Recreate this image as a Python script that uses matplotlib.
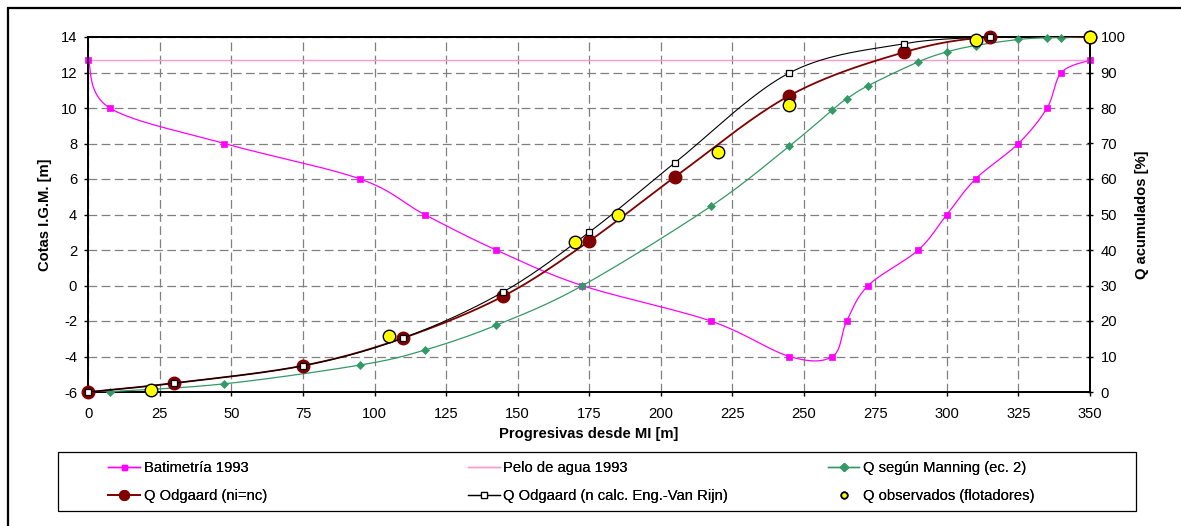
import numpy as np
import matplotlib
matplotlib.use('Agg')
import matplotlib.pyplot as plt
from matplotlib.lines import Line2D
from matplotlib.patches import Rectangle

plt.rcParams['font.family'] = ['Liberation Sans', 'DejaVu Sans']
plt.rcParams['axes.unicode_minus'] = False

# ---- data ----
x_bat = [0, 7.5, 47.5, 95, 117.5, 142.5, 172.5, 217.5, 245, 260, 265, 272.5, 290, 300, 310, 325, 335, 340, 350]
z_bat = [12.7, 10, 8, 6, 4, 2, 0, -2, -4, -4, -2, 0, 2, 4, 6, 8, 10, 12, 12.7]
x_pelo = [0, 350]
z_pelo = [12.7, 12.7]
q_manning = [0, 0.1, 2.3, 7.6, 11.8, 18.8, 29.9, 52.3, 69.3, 79.5, 82.6, 86.3, 93.0, 95.8, 97.6, 99.3, 99.8, 99.8, 100]
x_odg = [0, 30, 75, 110, 145, 175, 205, 245, 285, 315, 350]
q_odg = [0, 2.5, 7.4, 15.2, 27.0, 42.5, 60.6, 83.5, 95.7, 100, 100]
x_odg_vr = [0, 30, 75, 110, 145, 175, 205, 245, 285, 315]
q_odg_vr = [0, 2.5, 7.4, 15.2, 28.2, 45.0, 64.6, 89.9, 98.1, 100]
x_obs = [22, 105, 170, 185, 220, 245, 310, 350]
q_obs = [0.6, 15.9, 42.2, 49.9, 67.7, 80.8, 99.1, 100]

x_ticks = list(range(0, 351, 25))
z_ticks = list(range(-6, 15, 2))
q_ticks = list(range(0, 101, 10))

lab_bat = 'Batimetría 1993'
lab_pelo = 'Pelo de agua 1993'
lab_man = 'Q según Manning (ec. 2)'
lab_odg = 'Q Odgaard (ni=nc)'
lab_vr = 'Q Odgaard (n calc. Eng.-Van Rijn)'
lab_obs = 'Q observados (flotadores)'

C_BAT = '#ff00ff'
C_PELO = '#ff99cc'
C_MAN = '#339966'
C_ODG = '#800000'
FS = 10.6


def smooth(x, y, n=40):
    """Excel-like smoothed line (Catmull-Rom Bezier)."""
    P = np.column_stack([x, y]).astype(float)
    ext = np.vstack([P[0], P, P[-1]])
    out = []
    t = np.linspace(0, 1, n)[:, None]
    for i in range(len(P) - 1):
        p0, p1, p2, p3 = ext[i], ext[i + 1], ext[i + 2], ext[i + 3]
        c1 = p1 + (p2 - p0) / 6
        c2 = p2 - (p3 - p1) / 6
        seg = (1 - t) ** 3 * p1 + 3 * (1 - t) ** 2 * t * c1 + 3 * (1 - t) * t ** 2 * c2 + t ** 3 * p2
        out.append(seg if i == 0 else seg[1:])
    s = np.vstack(out)
    return s[:, 0], s[:, 1]


W, H = 1181, 526
fig = plt.figure(figsize=(W / 100, H / 100), dpi=100)
left, right, top, bottom = 88.3, 1090, 37, 392
ax = fig.add_axes([left / W, 1 - bottom / H, (right - left) / W, (bottom - top) / H])
ax2 = ax.twinx()

# left axis: bathymetry
sx, sy = smooth(x_bat, z_bat)
ax.plot(sx, sy, color=C_BAT, lw=0.9, zorder=3)
ax.plot(x_bat, z_bat, ls='none', marker='s', ms=4.2, mew=0.5, color=C_BAT, zorder=4, clip_on=False)
ax.plot(x_pelo, z_pelo, color=C_PELO, lw=1.0, zorder=3)

# right axis: discharges
sx, sy = smooth(x_bat, q_manning)
ax2.plot(sx, sy, color=C_MAN, lw=0.9, zorder=3)
ax2.plot(x_bat, q_manning, ls='none', marker='D', ms=3.9, mew=0.5, color=C_MAN, zorder=4, clip_on=False)

sx, sy = smooth(x_odg, q_odg)
ax2.plot(sx, sy, color=C_ODG, lw=1.3, zorder=5)
ax2.plot(x_odg, q_odg, ls='none', marker='o', ms=9, mfc=C_ODG, mec=C_ODG, zorder=6, clip_on=False)

sx, sy = smooth(x_odg_vr, q_odg_vr)
ax2.plot(sx, sy, color='black', lw=0.8, zorder=7)
ax2.plot(x_odg_vr, q_odg_vr, ls='none', marker='s', ms=5, mfc='white', mec='black', mew=0.9,
         zorder=8, clip_on=False)

ax2.plot(x_obs, q_obs, ls='none', marker='o', ms=9, mfc='#ffff00', mec='black', mew=1.0,
         zorder=9, clip_on=False)

# axes setup
ax.set_xlim(0, 350)
ax.set_ylim(-6, 14)
ax2.set_ylim(0, 100)
ax.set_xticks(x_ticks)
ax.set_yticks(z_ticks)
ax2.set_yticks(q_ticks)
ax.set_xticklabels([str(v) for v in x_ticks])
ax.set_yticklabels([str(v) for v in z_ticks])
ax2.set_yticklabels([str(v) for v in q_ticks])

ax.grid(True, color='#808080', lw=0.9, linestyle=(0, (7, 3.5)))
ax.set_axisbelow(True)
for a in (ax, ax2):
    for s in a.spines.values():
        s.set_linewidth(1.3)
        s.set_color('black')
    a.tick_params(direction='out', length=3, width=1, labelsize=FS, pad=5, colors='black')
ax.tick_params(axis='x', pad=8)
ax2.tick_params(axis='y', direction='inout', length=5, pad=5)

ax.set_xlabel('Progresivas desde MI [m]', fontsize=FS, fontweight='bold', labelpad=4)
ax.set_ylabel('Cotas I.G.M. [m]', fontsize=FS, fontweight='bold', labelpad=6)
ax2.set_ylabel('Q acumulados [%]', fontsize=FS, fontweight='bold', labelpad=7, rotation=90)

# outer chart frame
fig.patches.append(Rectangle((7.5 / W, -0.2), 1.2, (H - 8) / H + 0.2, transform=fig.transFigure,
                             fill=False, ec='black', lw=1.6, clip_on=False))
# legend box
lx0, lx1, ly0, ly1 = 58.3, 1136, 452.3, 511
fig.patches.append(Rectangle((lx0 / W, 1 - ly1 / H), (lx1 - lx0) / W, (ly1 - ly0) / H,
                             transform=fig.transFigure, fill=False, ec='black', lw=0.9))

h_bat = Line2D([], [], color=C_BAT, lw=1, marker='s', ms=3.6)
h_pelo = Line2D([], [], color=C_PELO, lw=1)
h_man = Line2D([], [], color=C_MAN, lw=1, marker='D', ms=3.8)
h_odg = Line2D([], [], color=C_ODG, lw=1.3, marker='o', ms=7, mfc=C_ODG, mec=C_ODG)
h_vr = Line2D([], [], color='black', lw=0.9, marker='s', ms=4.6, mfc='white', mec='black', mew=0.9)
h_obs = Line2D([], [], ls='none', marker='o', ms=4.6, mfc='#ffff00', mec='black', mew=1.2)

cols = [((h_bat, h_odg), (lab_bat, lab_odg), 108.3),
        ((h_pelo, h_vr), (lab_pelo, lab_vr), 468),
        ((h_man, h_obs), (lab_man, lab_obs), 827.7)]
for hs, ls, xs in cols:
    leg = fig.legend(hs, ls, loc='center left', bbox_to_anchor=(xs / W, 1 - 482 / H),
                     frameon=False, fontsize=FS, handlelength=2.15, handletextpad=0.25,
                     labelspacing=0.93, borderpad=0, borderaxespad=0)
    fig.add_artist(leg)

fig.savefig('out.png', dpi=100)
